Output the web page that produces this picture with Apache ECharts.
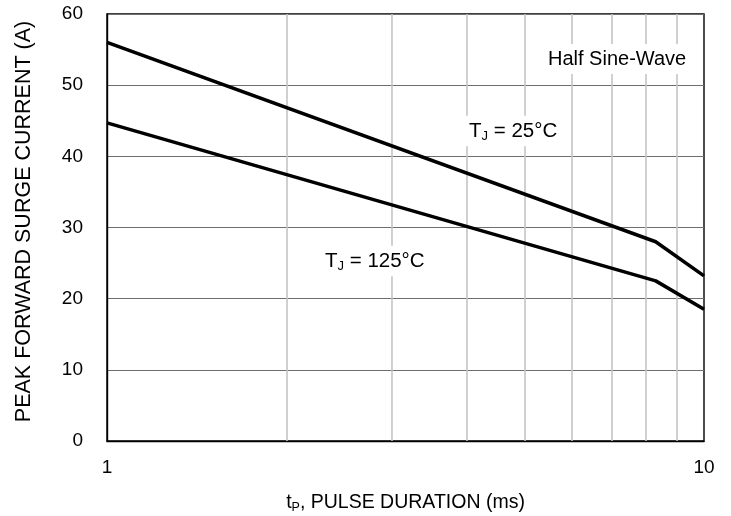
<!DOCTYPE html>
<html>
<head>
<meta charset="utf-8">
<script src="https://cdn.jsdelivr.net/npm/echarts@6/dist/echarts.min.js"></script>
<style>html,body{margin:0;padding:0;background:#fff;}#c{width:731px;height:516px;}</style>
</head>
<body>
<div id="c"></div>
<script>
// Data
const tj25 = [[1, 56.0], [8.3, 28.0], [10, 23.2]];
const tj125 = [[1, 44.7], [8.3, 22.5], [10, 18.5]];
const minorX = [2, 3, 4, 5, 6, 7, 8, 9];
const xMin = 1, xMax = 10;
const yMin = 0, yMax = 60, yStep = 10;
const xTitle = '{t|t}{sub|P}{t|, PULSE DURATION (ms)}';
const yTitle = 'PEAK FORWARD SURGE CURRENT (A)';
const label25 = '{t|T}{sub|J}{t| = 25°C}';
const label125 = '{t|T}{sub|J}{t| = 125°C}';
const labelWave = 'Half Sine-Wave';

const FONT = '"Liberation Sans", Arial, sans-serif';
const chart = echarts.init(document.getElementById('c'), null, {renderer: 'canvas'});

function subRich(size, subSize) {
  return {
    t: {fontSize: size, fontFamily: FONT, color: '#000', lineHeight: size + 4},
    sub: {fontSize: subSize, fontFamily: FONT, color: '#000', lineHeight: subSize, verticalAlign: 'bottom'}
  };
}

chart.setOption({
  animation: false,
  backgroundColor: '#fff',
  grid: {left: 107, right: 27, top: 14, bottom: 75, containLabel: false, outerBoundsMode: 'none',
         show: true, borderColor: '#000', borderWidth: 1.4, backgroundColor: 'transparent'},
  xAxis: {
    type: 'log', logBase: 10, min: xMin, max: xMax,
    name: xTitle, nameLocation: 'middle', nameGap: 50,
    nameTextStyle: {rich: subRich(19.5, 12.5)},
    axisLine: {show: true, lineStyle: {color: '#000', width: 1.4}},
    axisTick: {show: false},
    splitLine: {show: false},
    axisLabel: {color: '#000', fontSize: 19, fontFamily: FONT, margin: 17}
  },
  yAxis: {
    type: 'value', min: yMin, max: yMax, interval: yStep,
    name: yTitle, nameLocation: 'middle', nameGap: 72,
    nameTextStyle: {color: '#000', fontSize: 21.5, fontFamily: FONT, padding: [0, 0, 0, 12]},
    axisLine: {show: true, lineStyle: {color: '#000', width: 1.4}},
    axisTick: {show: false},
    splitLine: {show: true, lineStyle: {color: '#6e6e6e', width: 1.2}},
    axisLabel: {color: '#000', fontSize: 19, fontFamily: FONT, margin: 24}
  },
  series: [
    {
      type: 'line', data: [], silent: true, z: 1,
      markLine: {
        silent: true, symbol: ['none', 'none'], animation: false,
        label: {show: false},
        lineStyle: {color: '#c4c4c4', width: 1.6, type: 'solid'},
        data: minorX.map(v => ({xAxis: v}))
      }
    },
    {type: 'line', data: tj25, showSymbol: false, symbol: 'none', z: 5,
     lineStyle: {color: '#000', width: 3.5}},
    {type: 'line', data: tj125, showSymbol: false, symbol: 'none', z: 5,
     lineStyle: {color: '#000', width: 3.5}}
  ],
  graphic: [
    {type: 'text', x: 540, y: 59, z: 10,
     style: {text: labelWave, font: '20px ' + FONT, fill: '#000', align: 'left', verticalAlign: 'middle',
             backgroundColor: '#fff', padding: [5, 6, 5, 8]}},
    {type: 'text', x: 464, y: 131, z: 10,
     style: {text: label25, rich: subRich(20.5, 13), align: 'left', verticalAlign: 'middle',
             backgroundColor: '#fff', padding: [3, 4, 3, 5]}},
    {type: 'text', x: 320, y: 261, z: 10,
     style: {text: label125, rich: subRich(20.5, 13), align: 'left', verticalAlign: 'middle',
             backgroundColor: '#fff', padding: [3, 4, 3, 5]}}
  ]
});
</script>
</body>
</html>
